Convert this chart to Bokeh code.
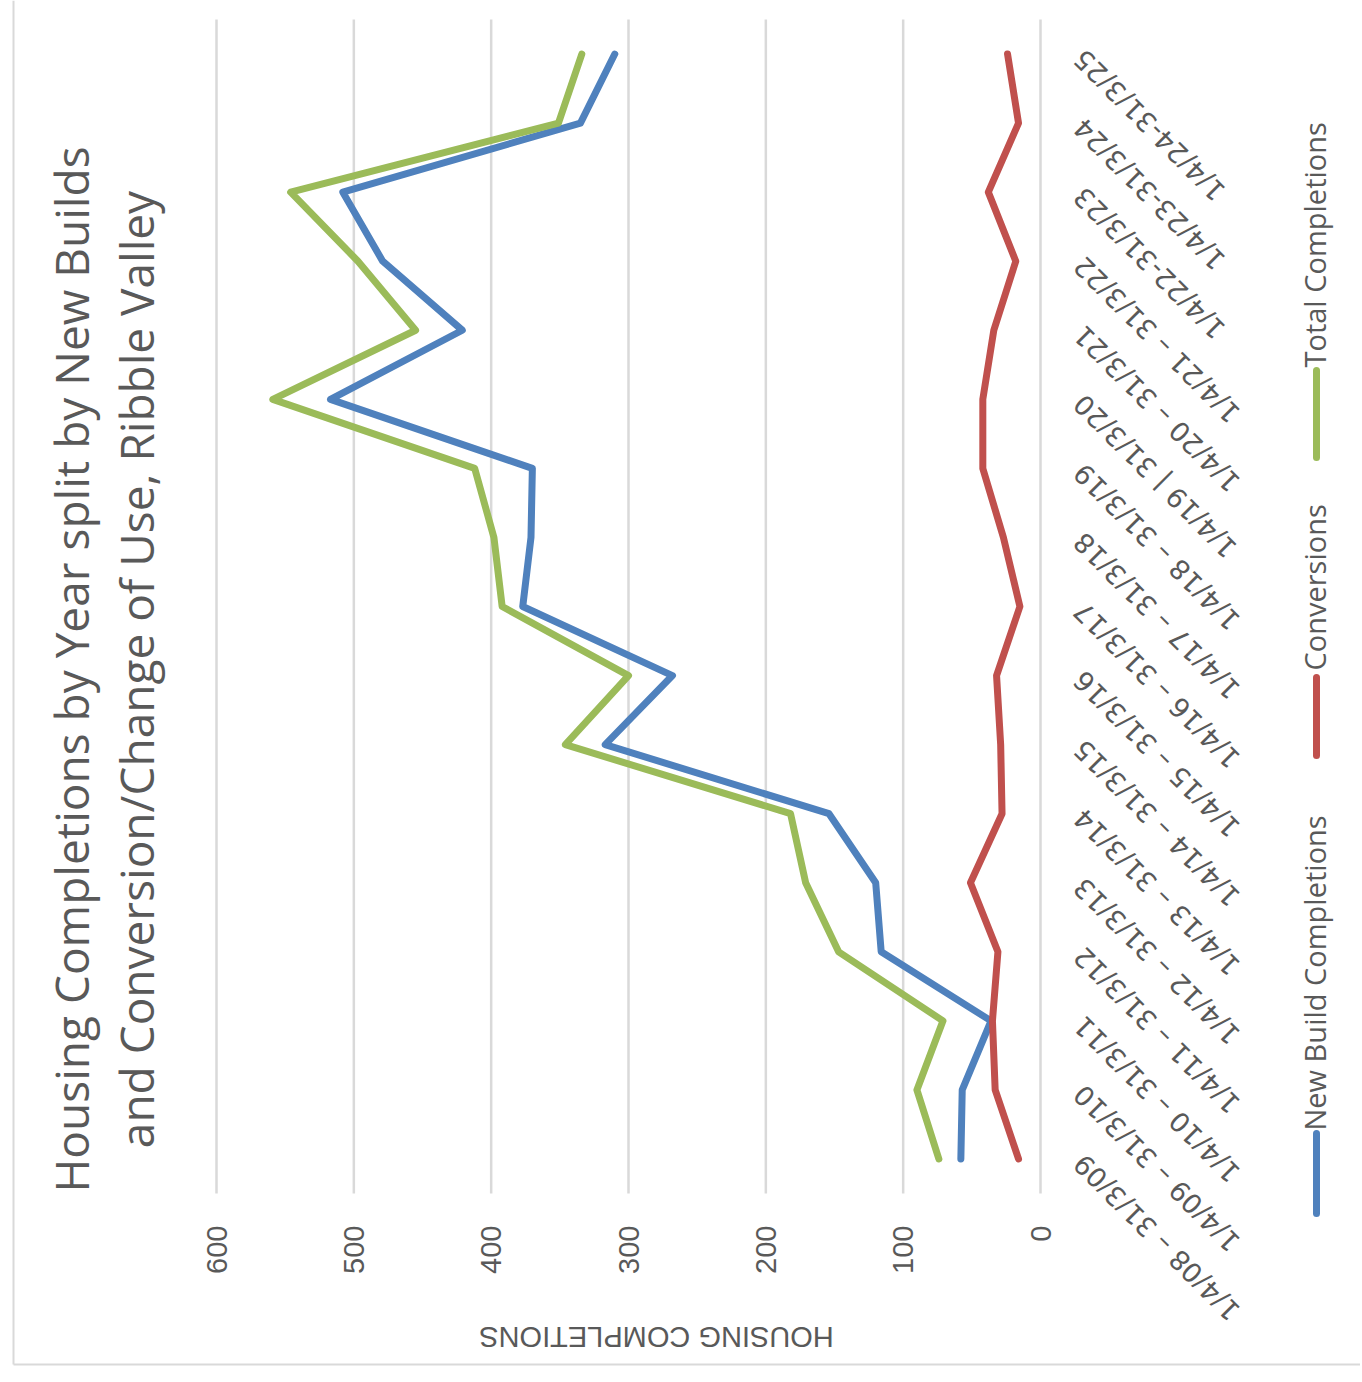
from math import pi
from bokeh.plotting import figure
from bokeh.models import Range1d, FixedTicker, ColumnDataSource, Label, Arrow, LinearAxis
from bokeh.embed import file_html
from bokeh.resources import INLINE
from bokeh.core.properties import value

# ---------------- data ----------------
categories = [
    "1/4/08 – 31/3/09", "1/4/09 – 31/3/10", "1/4/10 – 31/3/11", "1/4/11 – 31/3/12",
    "1/4/12 – 31/3/13", "1/4/13 – 31/3/14", "1/4/14 – 31/3/15", "1/4/15 – 31/3/16",
    "1/4/16 – 31/3/17", "1/4/17 – 31/3/18", "1/4/18 – 31/3/19", "1/4/19 | 31/3/20",
    "1/4/20 – 31/3/21", "1/4/21 – 31/3/22", "1/4/22-31/3/23", "1/4/23-31/3/24",
    "1/4/24-31/3/25",
]
new_build = [58, 57, 36, 116, 120, 154, 317, 268, 377, 371, 370, 517, 421, 479, 508, 335, 310]
conversions = [16, 33, 35, 31, 51, 28, 29, 32, 15, 27, 42, 42, 34, 18, 38, 16, 24]
total = [74, 90, 71, 147, 171, 182, 346, 300, 392, 398, 412, 559, 455, 497, 546, 351, 334]
value_ticks = [0, 100, 200, 300, 400, 500, 600]
series_names = ["New Build Completions", "Conversions", "Total Completions"]
title_lines = ["Housing Completions by Year split by New Builds",
               "and Conversion/Change of Use, Ribble Valley"]
axis_title = "HOUSING COMPLETIONS"

# ---------------- style ----------------
colors = ["#4F81BD", "#C0504D", "#9BBB59"]
TXT = "#595959"
GRID = "#D9D9D9"

W, H = 1360, 1378
# plot area (in canvas pixels): value 0 at x=1040, 600 at x=216; categories span y 19..1193
PX0, PX600, PY_TOP, PY_BOT = 1040.0, 216.0, 19.0, 1193.0
NCAT = len(categories)


def dx(px):
    return (PX0 - px) * 600.0 / (PX0 - PX600)


def dy(py):
    return (NCAT - 0.5) - (py - PY_TOP) * NCAT / (PY_BOT - PY_TOP)


idx = list(range(NCAT))
src = ColumnDataSource(dict(idx=idx, cat=categories, nb=new_build, cv=conversions, tot=total))

p = figure(width=W, height=H, x_range=Range1d(dx(0), dx(W)), y_range=Range1d(dy(H), dy(0)),
           output_backend="svg", toolbar_location=None,
           x_axis_location=None, y_axis_location=None,
           min_border_left=0, min_border_right=0, min_border_top=0, min_border_bottom=0)
p.outline_line_color = None
p.background_fill_color = "white"
p.border_fill_color = "white"
p.xgrid.grid_line_color = None
p.ygrid.grid_line_color = None

# value axis drawn at the bottom edge of the plot area
ax = LinearAxis(fixed_location=-0.5, ticker=FixedTicker(ticks=value_ticks))
ax.axis_line_color = None
ax.major_tick_line_color = None
ax.minor_tick_line_color = None
ax.major_tick_out = 0
ax.major_tick_in = 0
ax.major_label_orientation = pi / 2
ax.major_label_text_font = "Liberation Sans"
ax.major_label_text_font_size = "29px"
ax.major_label_text_color = TXT
ax.major_label_standoff = 32
p.add_layout(ax, "below")

# vertical gridlines at the value ticks, spanning the category range
p.segment(x0=value_ticks, y0=[-0.5] * len(value_ticks), x1=value_ticks,
          y1=[NCAT - 0.5] * len(value_ticks), line_color=GRID, line_width=2.5)

for col, c in zip(["nb", "cv", "tot"], colors):
    p.line(x=col, y="idx", source=src, line_color=c, line_width=7,
           line_join="round", line_cap="round")

# category labels (upside-down diagonal)
p.text(x=0, y="idx", text="cat", source=src, x_offset=38, y_offset=0,
       angle=3 * pi / 4, text_align="right", text_baseline="middle",
       text_font=value("DejaVu Sans"), text_font_size="27px", text_color=TXT)

# title (rotated)
for t, bx in zip(title_lines, [70, 135]):
    p.add_layout(Label(x=dx(bx), y=dy(669), text=t, angle=pi / 2, text_align="center",
                       text_baseline="alphabetic", text_font="Open Sans",
                       text_font_size="46px", text_color=TXT))

# value axis title (upside-down)
p.add_layout(Label(x=dx(656), y=dy(1336), text=axis_title, angle=pi, text_align="center",
                   text_baseline="alphabetic", text_font="Liberation Sans",
                   text_font_size="29px", text_color=TXT))

# legend (rotated)
leg_text_start = [1130, 670, 367]
leg_marker = [(1133, 1213), (677, 755), (370, 457)]
for name, c, ts, (m0, m1) in zip(series_names, colors, leg_text_start, leg_marker):
    p.add_layout(Arrow(x_start=dx(1316), y_start=dy(m0), x_end=dx(1316), y_end=dy(m1),
                       start=None, end=None, line_color=c, line_width=7, line_cap="round"))
    p.add_layout(Label(x=dx(1314), y=dy(ts), text=name, angle=pi / 2, text_align="left",
                       text_baseline="alphabetic", text_font="Open Sans",
                       text_font_size="29px", text_color=TXT))

# chart-area border
p.add_layout(Arrow(x_start=dx(13), y_start=dy(0), x_end=dx(13), y_end=dy(1364),
                   start=None, end=None, line_color=GRID, line_width=2))
p.add_layout(Arrow(x_start=dx(13), y_start=dy(1364), x_end=dx(W), y_end=dy(1364),
                   start=None, end=None, line_color=GRID, line_width=2))

open("out.html", "w").write(file_html(p, INLINE))
